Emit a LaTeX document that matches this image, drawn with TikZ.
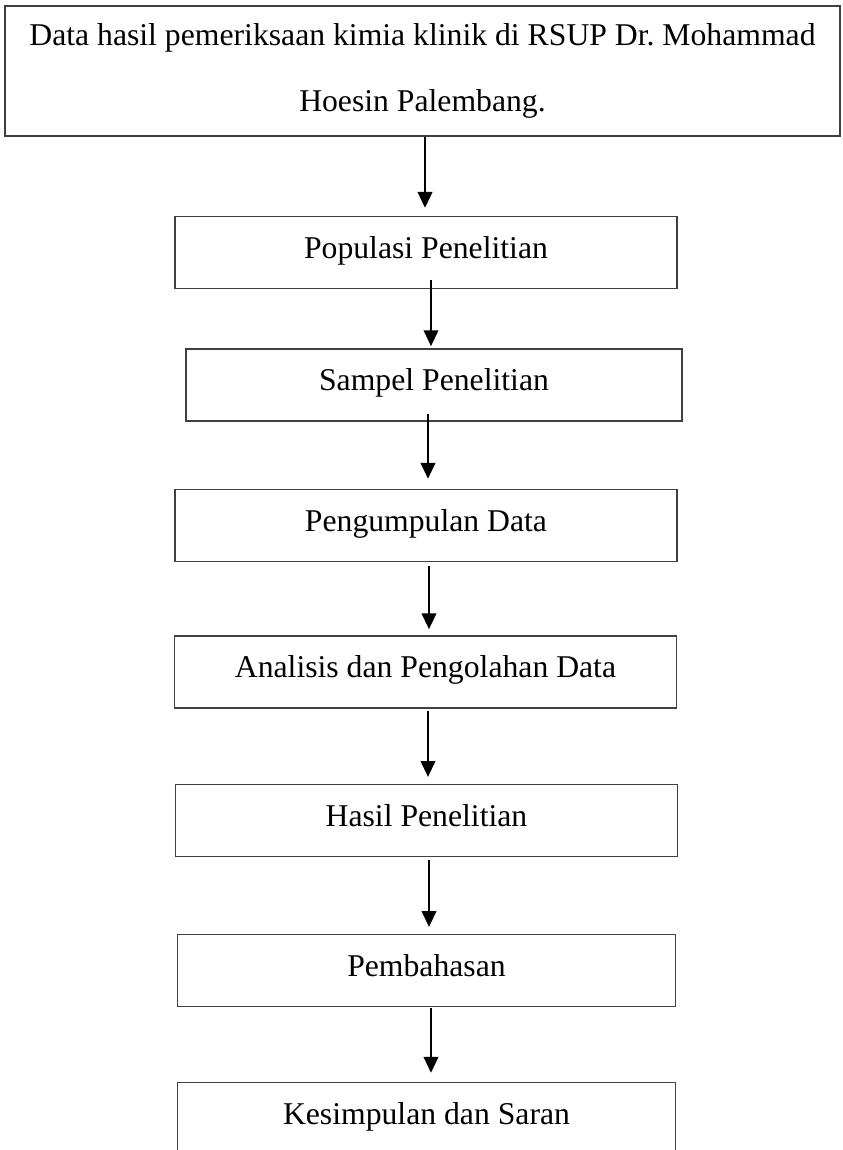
\documentclass[tikz,border=0pt]{standalone}
\usepackage{fontspec}
\setmainfont{Liberation Serif}
\usetikzlibrary{arrows.meta}

\begin{document}
\begin{tikzpicture}
[x=0.01331cm, y=-0.01331cm,
 boxline/.style={draw=black!75, line width=0.5pt, inner sep=0pt, align=center,
   font=\fontsize{12}{24.9}\selectfont},
 stepbox/.style={boxline, minimum width=6.68cm, minimum height=0.96cm,
   text height=0.7em, text depth=0.25em},
 arw/.style={line width=0.8pt, -{Triangle[length=6pt,width=5.5pt]}}]
\useasboundingbox (0,0) rectangle (842,1150);
\clip (0,0) rectangle (842,1150);
%% the boxes, top to bottom
\node[boxline, minimum width=11.11cm, minimum height=1.73cm] (data) at (422.5,71)
  {Data hasil pemeriksaan kimia klinik di RSUP Dr.\ Mohammad\\ Hoesin Palembang.};
\node[stepbox] (populasi) at (426,252.5) {Populasi Penelitian};
\node[stepbox, minimum width=6.60cm] (sampel) at (434,385) {Sampel Penelitian};
\node[stepbox] (kumpul) at (426,525.5) {Pengumpulan Data};
\node[stepbox] (olah) at (425.5,672) {Analisis dan Pengolahan Data};
\node[stepbox] (hasil) at (426.5,820.5) {Hasil Penelitian};
\node[stepbox, minimum width=6.62cm] (bahas) at (426.5,970.5) {Pembahasan};
\node[stepbox, minimum width=6.62cm] (simpul) at (426.5,1118.5) {Kesimpulan dan Saran};
%% the arrows
\foreach \from/\to/\x/\s/\e in {data/populasi/425/0pt/3pt,
    populasi/sampel/431/-3.4pt/0.8pt, sampel/kumpul/428/-3pt/3.8pt,
    kumpul/olah/429/1.5pt/2.3pt, olah/hasil/428/0.8pt/2.6pt,
    hasil/bahas/429/1.1pt/2.6pt, bahas/simpul/431/0.4pt/3.4pt} {
  \draw[arw, shorten <=\s, shorten >=\e] (\x,0 |- \from.south) -- (\x,0 |- \to.north);
}
\end{tikzpicture}
\end{document}
